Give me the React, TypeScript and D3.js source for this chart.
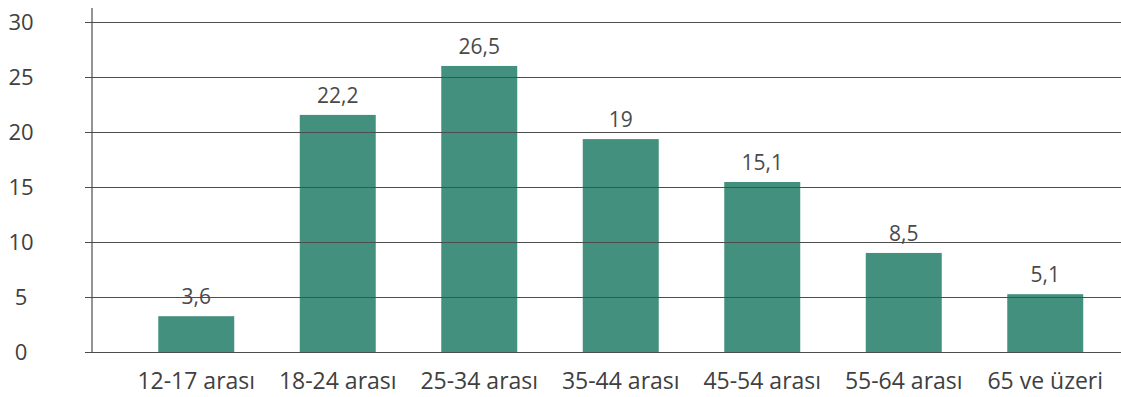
import React from "react";
import * as d3 from "d3";

const categories = ["12-17 arası", "18-24 arası", "25-34 arası", "35-44 arası", "45-54 arası", "55-64 arası", "65 ve üzeri"];
const barValues = [3.3, 21.6, 26.05, 19.4, 15.5, 9.05, 5.3];
const valueLabels = ["3,6", "22,2", "26,5", "19", "15,1", "8,5", "5,1"];
const yTicks = [0, 5, 10, 15, 20, 25, 30];

const W = 1121;
const H = 397;
const FONT = "'Open Sans', sans-serif";

export default function App() {
  const y = d3.scaleLinear().domain([0, 30]).range([352.5, 22.5]);
  const x = d3.scaleBand<string>().domain(categories).range([125.5, 1116]).paddingInner(0.463).paddingOuter(0.2315);
  const bw = x.bandwidth();
  return (
    <svg width={W} height={H} style={{ position: "absolute", left: 0, top: 0 }}>
      {categories.map((c, i) => (
        <rect key={c} x={x(c)} y={y(barValues[i])} width={bw} height={y(0) - y(barValues[i])} fill="#43907F" />
      ))}
      {yTicks.map((t) => (
        <g key={t}>
          <line x1={85} x2={W} y1={y(t)} y2={y(t)} stroke="#4d4d4d" strokeWidth={1.2} />
          <text x={21} y={y(t)} dy="0.36em" textAnchor="middle" fontFamily={FONT} fontSize={22} fill="#404040">
            {t}
          </text>
        </g>
      ))}
      <line x1={92} x2={92} y1={8} y2={y(0)} stroke="#4d4d4d" strokeWidth={1.2} />
      {categories.map((c, i) => (
        <text key={c} x={(x(c) as number) + bw / 2} y={y(barValues[i]) - 12} textAnchor="middle" fontFamily={FONT} fontSize={21} fill="#4a4a4a">
          {valueLabels[i]}
        </text>
      ))}
      {categories.map((c) => (
        <text key={c} x={(x(c) as number) + bw / 2} y={389} textAnchor="middle" fontFamily={FONT} fontSize={23} fill="#404040">
          {c}
        </text>
      ))}
    </svg>
  );
}
